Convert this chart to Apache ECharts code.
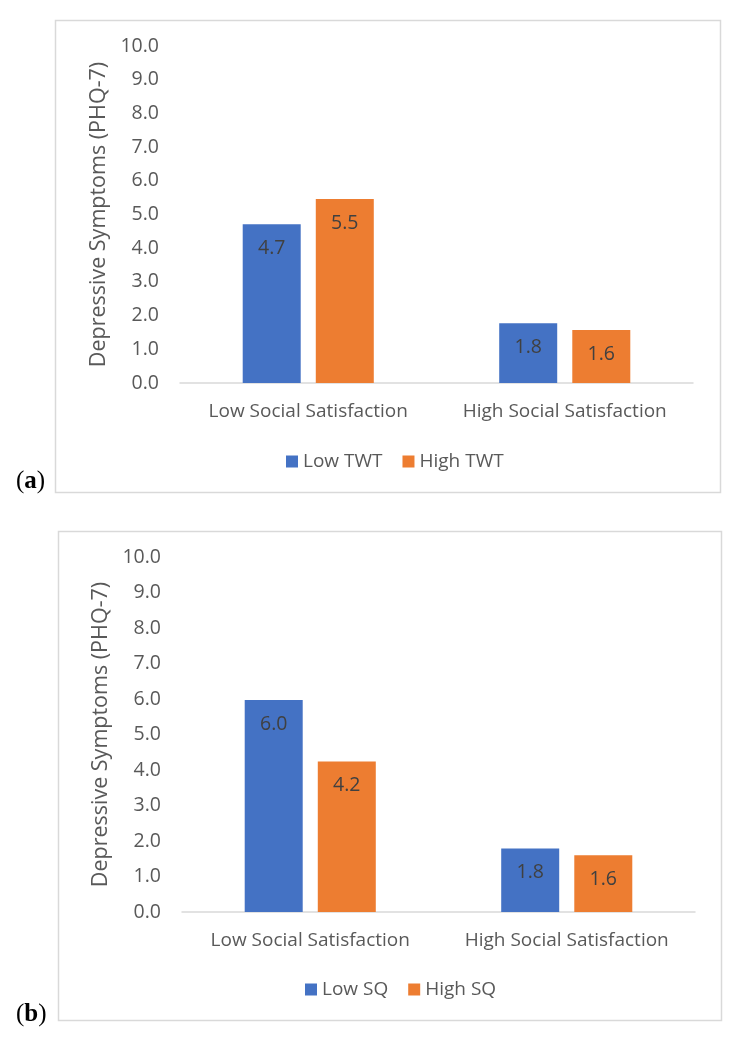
<!DOCTYPE html>
<html>
<head>
<meta charset="utf-8">
<script src="https://cdn.jsdelivr.net/npm/echarts@6/dist/echarts.min.js"></script>
<style>
html,body{margin:0;padding:0;background:#fff;}
#chart{width:743px;height:1047px;}
</style>
</head>
<body>
<div id="chart"></div>
<script>
const categories = ['Low Social Satisfaction', 'High Social Satisfaction'];
const seriesNamesA = ['Low TWT', 'High TWT'];
const lowTWT = [4.71, 1.77];
const highTWT = [5.46, 1.57];
const seriesNamesB = ['Low SQ', 'High SQ'];
const lowSQ = [5.97, 1.79];
const highSQ = [4.24, 1.60];
const yAxisTitle = 'Depressive Symptoms (PHQ-7)';
const panelLabels = ['a', 'b'];

const FONT = 'Open Sans';
const BLUE = '#4472C4', ORANGE = '#ED7D31';
const chart = echarts.init(document.getElementById('chart'));

function yAxis(idx) {
  return {
    type: 'value', gridIndex: idx, min: 0, max: 10, interval: 1,
    name: yAxisTitle, nameLocation: 'middle', nameRotate: 90, nameGap: 67,
    nameTextStyle: {fontFamily: FONT, fontSize: 21.5, color: '#595959'},
    axisLine: {show: false}, axisTick: {show: false}, splitLine: {show: false},
    axisLabel: {fontFamily: FONT, fontSize: 19.5, color: '#595959', margin: 21,
      formatter: v => v.toFixed(1)}
  };
}
function xAxis(idx) {
  return {
    type: 'category', gridIndex: idx, data: categories,
    axisLine: {show: true, lineStyle: {color: '#d9d9d9', width: 1.5}},
    axisTick: {show: false},
    axisLabel: {interval: 0, fontFamily: FONT, fontSize: 19, color: '#595959', margin: 19}
  };
}
function bar(name, data, color, idx) {
  return {
    type: 'bar', name: name, data: data, xAxisIndex: idx, yAxisIndex: idx,
    barWidth: 58, barGap: '26%', itemStyle: {color: color},
    label: {show: true, position: 'insideTop', distance: 14, fontFamily: FONT,
      fontSize: 19.5, color: '#404040', formatter: p => p.value.toFixed(1)}
  };
}
const legendCommon = {
  orient: 'horizontal', icon: 'rect', itemWidth: 12, itemHeight: 12, itemGap: 20,
  textStyle: {fontFamily: FONT, fontSize: 19, color: '#595959'},
  selectedMode: false
};

chart.setOption({
  animation: false,
  backgroundColor: '#fff',
  grid: [
    {left: 180, right: 50, top: 46, height: 337},
    {left: 182, right: 48, top: 557, height: 355}
  ],
  xAxis: [xAxis(0), xAxis(1)],
  yAxis: [yAxis(0), yAxis(1)],
  legend: [
    Object.assign({}, legendCommon, {data: seriesNamesA, left: 281, top: 447}),
    Object.assign({}, legendCommon, {data: seriesNamesB, left: 300, top: 975})
  ],
  series: [
    bar(seriesNamesA[0], lowTWT, BLUE, 0),
    bar(seriesNamesA[1], highTWT, ORANGE, 0),
    bar(seriesNamesB[0], lowSQ, BLUE, 1),
    bar(seriesNamesB[1], highSQ, ORANGE, 1)
  ],
  graphic: [
    {type: 'rect', shape: {x: 55.5, y: 20.5, width: 665, height: 472},
      style: {fill: 'none', stroke: '#d9d9d9', lineWidth: 1.5}, silent: true, z: -1},
    {type: 'rect', shape: {x: 58.5, y: 531.5, width: 663, height: 489},
      style: {fill: 'none', stroke: '#d9d9d9', lineWidth: 1.5}, silent: true, z: -1},
    {type: 'text', left: 16, top: 469, style: {
      text: '(' + '{b|' + panelLabels[0] + '})', fontFamily: 'Liberation Serif', fontSize: 25, fill: '#000',
      rich: {b: {fontFamily: 'Liberation Serif', fontSize: 25, fontWeight: 'bold', fill: '#000'}}}},
    {type: 'text', left: 16, top: 1002, style: {
      text: '(' + '{b|' + panelLabels[1] + '})', fontFamily: 'Liberation Serif', fontSize: 25, fill: '#000',
      rich: {b: {fontFamily: 'Liberation Serif', fontSize: 25, fontWeight: 'bold', fill: '#000'}}}}
  ]
});
</script>
</body>
</html>
